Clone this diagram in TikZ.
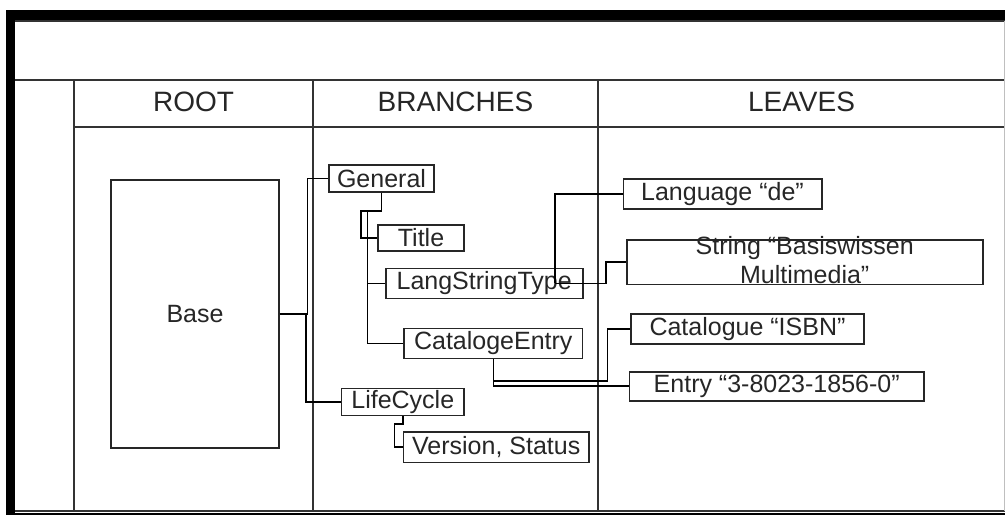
\documentclass[tikz,border=0pt]{standalone}
\usepackage{fontspec}
\setmainfont{Liberation Sans}
\begin{document}
\begin{tikzpicture}[x=1pt,y=-1pt,
  rule/.style={line width=1.5pt,draw=black!80},
  box/.style={draw=black!85,line width=1.6pt,inner sep=0pt,anchor=center,
    font=\fontsize{25}{29}\selectfont,text=black!85},
  head/.style={font=\fontsize{28}{32}\selectfont,text=black!85,inner sep=0pt},
  link/.style={draw=black,line width=1.6pt}]
\useasboundingbox (0,0) rectangle (1005,515);

% page frame
\fill[black] (6,10) rectangle (1005,19.5);
\fill[black] (6,10) rectangle (15,515);
\fill[black] (15,512.6) rectangle (1005,515);

% table rules
\draw[rule] (15,21) -- (1005,21);
\draw[rule] (15,80) -- (1005,80);
\draw[rule] (74,127) -- (1005,127);
\draw[rule] (15,511) -- (1005,511);
\draw[rule] (74,80) -- (74,511);
\draw[rule] (313,80) -- (313,511);
\draw[rule] (598,80) -- (598,511);
\draw[line width=0.8pt,draw=black!25] (1004.4,21) -- (1004.4,511);

% column headings
\node[head] (hroot) at (193.5,101.5) {ROOT};
\node[head] (hbranch) at (455.5,101.5) {BRANCHES};
\node[head] (hleaf) at (801.5,101.5) {LEAVES};

% root
\node[box,minimum width=168,minimum height=268] (base) at (195,314) {Base};

% branches
\node[box,minimum width=105,minimum height=27] (general) at (381.5,178.5) {General};
\node[box,minimum width=86,minimum height=26.5] (title) at (421,238) {Title};
\node[box,minimum width=197,minimum height=30] (lst) at (484.2,283.3) {LangStringType};
\node[box,minimum width=178.7,minimum height=30] (cat) at (493.3,343.3) {CatalogeEntry};
\node[box,minimum width=122.3,minimum height=27] (life) at (402.8,401.8) {LifeCycle};
\node[box,minimum width=185.7,minimum height=30.3] (version) at (496.2,447.2) {Version, Status};

% leaves
\node[box,minimum width=198.4,minimum height=30] (language) at (722.5,194) {Language “de”};
\node[box,minimum width=356,minimum height=44.3] (string) at (804.7,262.2) {};
\node[font=\fontsize{25}{29}\selectfont,text=black!85,align=center,inner sep=0pt]
  (stringtext) at (804.7,260.5) {String “Basiswissen\\Multimedia”};
\node[box,minimum width=233,minimum height=30] (catalogue) at (747.5,329) {Catalogue “ISBN”};
\node[box,minimum width=294.7,minimum height=29] (entry) at (776.7,386.2) {Entry “3-8023-1856-0”};

% junction points
\coordinate (g1) at (361,210.7);
\coordinate (g2) at (367.3,210.7);
\coordinate (l1) at (394.3,424);
\coordinate (c1) at (607.3,381);
\coordinate (s1) at (555,283.3);
\coordinate (s2) at (606,283.3);

% connectors
\draw[link] (base.east) -- ++(27.5,0) |- (general.west);
\draw[link] (base.east) -- ++(26,0) |- (life.west);
\draw[link] (general.south) |- (g1) |- (title.west);
\draw[link] (general.south) |- (g2) |- (lst.west);
\draw[link] (g2) |- (cat.west);
\draw[link] (life.south) |- (l1) |- (version.west);
\draw[link] (s1) |- (language.west);
\draw[link] (s1) -- (s2) |- (string.west);
\draw[link] (cat.south) |- (c1) |- (catalogue.west);
\draw[link] (cat.south) |- (entry.west);
\end{tikzpicture}
\end{document}
